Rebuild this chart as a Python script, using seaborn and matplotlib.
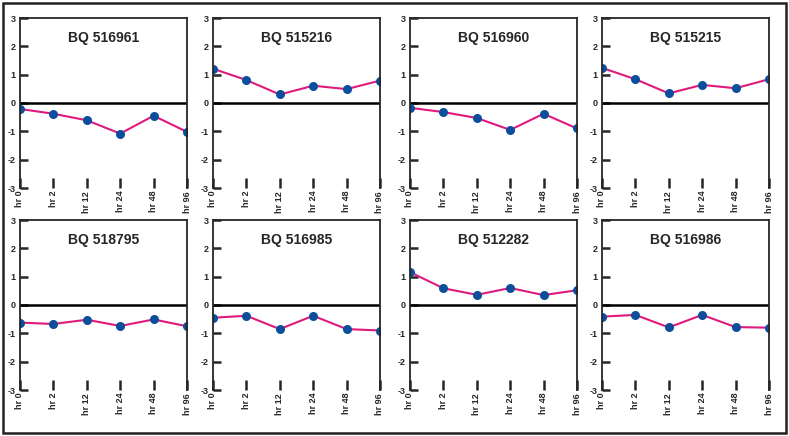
import pandas as pd
import matplotlib.pyplot as plt
import seaborn as sns
from matplotlib.patches import Rectangle

# time points (x axis) and one series per clone
timepoints = ['hr 0', 'hr 2', 'hr 12', 'hr 24', 'hr 48', 'hr 96']
clones = ['BQ 516961', 'BQ 515216', 'BQ 516960', 'BQ 515215',
          'BQ 518795', 'BQ 516985', 'BQ 512282', 'BQ 516986']

bq_516961 = [-0.21, -0.38, -0.61, -1.08, -0.45, -1.02]
bq_515216 = [1.21, 0.81, 0.30, 0.61, 0.49, 0.79]
bq_516960 = [-0.17, -0.32, -0.53, -0.95, -0.38, -0.90]
bq_515215 = [1.24, 0.84, 0.34, 0.64, 0.52, 0.84]
bq_518795 = [-0.62, -0.67, -0.52, -0.74, -0.51, -0.75]
bq_516985 = [-0.45, -0.38, -0.85, -0.38, -0.85, -0.90]
bq_512282 = [1.16, 0.59, 0.36, 0.60, 0.35, 0.52]
bq_516986 = [-0.41, -0.35, -0.79, -0.35, -0.78, -0.80]

series = [bq_516961, bq_515216, bq_516960, bq_515215,
          bq_518795, bq_516985, bq_512282, bq_516986]

rows = []
for name, vals in zip(clones, series):
    for t, v in zip(timepoints, vals):
        rows.append({'clone': name, 'time': t, 'value': v})
df = pd.DataFrame(rows)

sns.set_style('ticks')
plt.rcParams['font.family'] = ['Liberation Sans', 'DejaVu Sans']
plt.rcParams['font.weight'] = 'bold'
plt.rcParams['axes.unicode_minus'] = False

W, H = 789, 436
fig = plt.figure(figsize=(W / 100, H / 100), dpi=100)

lefts = [20, 213, 410, 602]
bottoms = [188, 390]
aw, ah = 167, 170

for i, name in enumerate(clones):
    r, c = divmod(i, 4)
    ax = fig.add_axes([lefts[c] / W, (H - bottoms[r]) / H, aw / W, ah / H])
    sub = df[df['clone'] == name]
    sns.lineplot(data=sub, x='time', y='value', ax=ax, color='#e0197d',
                 lw=1.5, marker='o', markersize=6.5, markerfacecolor='#0b4f9c',
                 markeredgewidth=0, sort=False)
    ax.axhline(0, color='black', lw=1.8, zorder=1)
    ax.set_xlim(0, 5)
    ax.set_ylim(-3, 3)
    ax.set_yticks([-3, -2, -1, 0, 1, 2, 3])
    ax.set_xlabel('')
    ax.set_ylabel('')
    ax.spines['bottom'].set_visible(False)
    for s in ['top', 'left', 'right']:
        ax.spines[s].set_linewidth(1.3)
    ax.tick_params(axis='y', direction='in', length=6, width=1.8,
                   labelsize=6.5, pad=3)
    ax.tick_params(axis='x', direction='in', length=7, width=1.8,
                   labelsize=6.5, pad=2, labelrotation=90)
    for lbl in ax.get_xticklabels() + ax.get_yticklabels():
        lbl.set_fontweight('bold')
    ax.text(2.5, 2.3, name, ha='center', va='center', fontsize=10,
            fontweight='bold')

fig.patches.append(Rectangle((3 / W, 3 / H), 783 / W, 430 / H, fill=False,
                             lw=1.8, edgecolor='#222222',
                             transform=fig.transFigure, figure=fig))

fig.savefig('out.png', dpi=100)
